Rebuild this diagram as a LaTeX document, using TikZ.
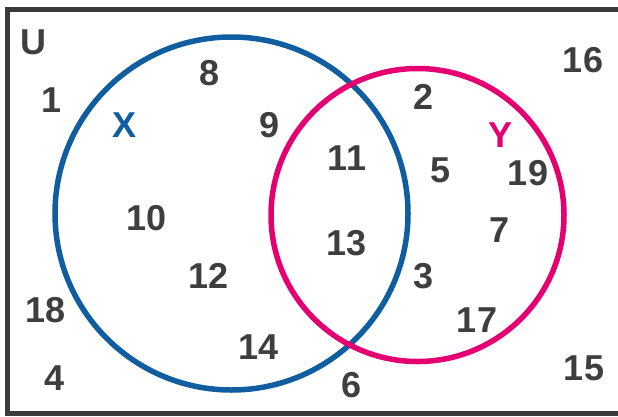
\documentclass[tikz,border=0pt]{standalone}
\usepackage{fontspec}
\setmainfont{Liberation Sans}
\usetikzlibrary{positioning}
\definecolor{setX}{RGB}{16,94,160}
\definecolor{setY}{RGB}{228,0,112}
\definecolor{ink}{RGB}{62,62,62}
\tikzset{
  elem/.style={font=\fontsize{36}{36}\selectfont\bfseries, text=ink, inner sep=0pt},
  setname/.style={font=\fontsize{36}{36}\selectfont\bfseries, inner sep=0pt}
}

\begin{document}
\begin{tikzpicture}[x=1pt, y=-1pt]
  \useasboundingbox (0,0) rectangle (618,416);
  \clip (0,0) rectangle (618,416);
  \draw[line width=5pt, color=ink!95!black] (7,9.5) rectangle (625,413);
  \coordinate (cX) at (231.5,213.5);
  \coordinate (cY) at (417.5,215);
  \draw[setX, line width=5.5pt] (cX) circle[radius=176.5pt];
  \draw[setY, line width=5.5pt] (cY) circle[radius=146.5pt];
  % labels
  \node[elem] (U) at (33,42) {U};
  \node[setname, text=setX] (X) at (125,125) {X};
  \node[setname, text=setY] (Y) at (500,135) {Y};
  % only X
  \node[elem] (e8) at (210,73) {8};
  \node[elem] (e9) at (270,125) {9};
  \node[elem] (e10) at (147,218) {10};
  \node[elem] (e12) at (209,276) {12};
  \node[elem] (e14) at (259,347) {14};
  % X and Y
  \node[elem] (e11) at (347,158) {11};
  \node[elem] (e13) at (347,243) {13};
  % only Y
  \node[elem] (e2) at (424,97) {2};
  \node[elem] (e5) at (441,170) {5};
  \node[elem] (e19) at (528,173) {19};
  \node[elem] (e7) at (500,230) {7};
  \node[elem] (e3) at (424,276) {3};
  \node[elem] (e17) at (477,320) {17};
  % outside
  \node[elem] (e1) at (52,100) {1};
  \node[elem] (e18) at (46,310) {18};
  \node[elem] (e4) at (55,378) {4};
  \node[elem] (e6) at (352,385) {6};
  \node[elem] (e16) at (583,60) {16};
  \node[elem] (e15) at (584,368) {15};
\end{tikzpicture}
\end{document}
